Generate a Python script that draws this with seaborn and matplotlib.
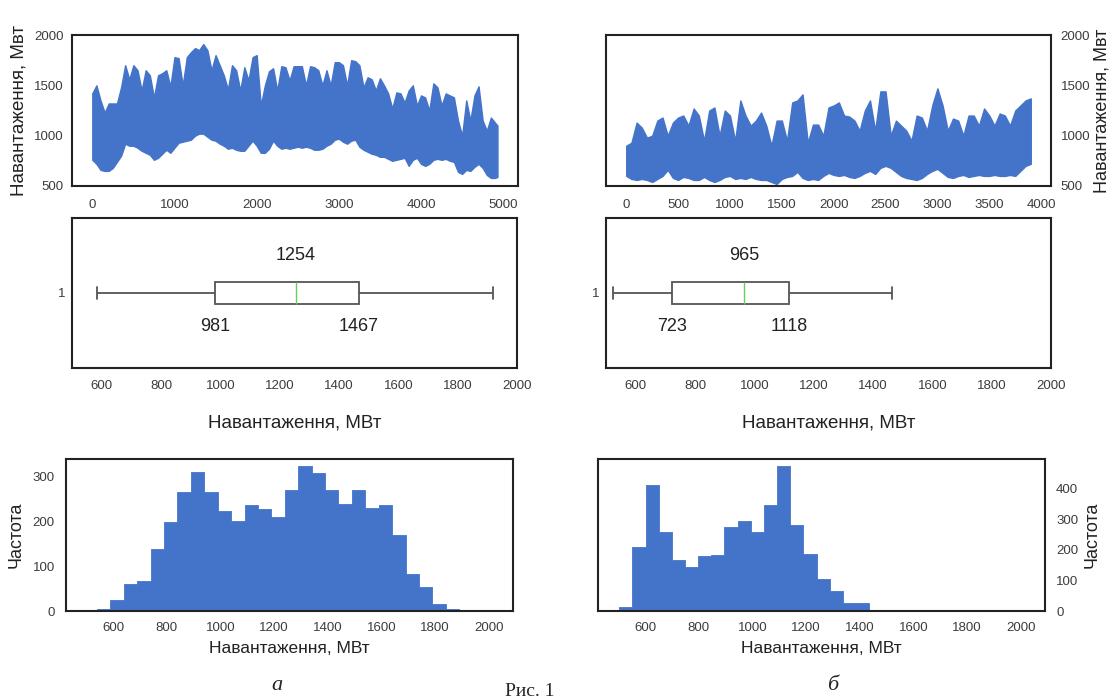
import numpy as np
import matplotlib
matplotlib.use("Agg")
import matplotlib.pyplot as plt
from matplotlib.transforms import blended_transform_factory
import seaborn as sns

# ---------------- data ----------------
# (а) load series envelope, step 50 samples, last sample at 4930
upper_a = [1420, 1500, 1350, 1230, 1320, 1320, 1320, 1480, 1700, 1560,
           1700, 1650, 1450, 1650, 1600, 1380, 1600, 1620, 1650, 1490,
           1780, 1770, 1500, 1780, 1830, 1870, 1850, 1910, 1850, 1650,
           1800, 1700, 1600, 1460, 1700, 1650, 1450, 1680, 1550, 1780,
           1800, 1300, 1500, 1640, 1670, 1450, 1690, 1680, 1550, 1690,
           1690, 1690, 1500, 1690, 1680, 1650, 1500, 1650, 1500, 1730,
           1730, 1700, 1500, 1750, 1740, 1700, 1480, 1580, 1560, 1450,
           1570, 1500, 1420, 1270, 1430, 1420, 1330, 1450, 1500, 1300,
           1400, 1380, 1250, 1520, 1480, 1300, 1420, 1400, 1380, 1150,
           1000, 1350, 1150, 1400, 1490, 1150, 1050, 1180, 1130, 1100]
lower_a = [760, 720, 660, 650, 650, 680, 740, 800, 920, 900,
           900, 880, 850, 830, 810, 760, 780, 820, 860, 830,
           880, 930, 940, 950, 960, 1000, 1020, 1020, 990, 960,
           950, 920, 900, 870, 880, 860, 850, 850, 900, 950,
           900, 830, 830, 870, 950, 900, 870, 880, 870, 880,
           890, 880, 890, 880, 860, 860, 870, 900, 920, 960,
           970, 940, 920, 950, 960, 890, 860, 840, 820, 810,
           790, 790, 770, 750, 760, 770, 780, 700, 760, 780,
           720, 700, 720, 760, 770, 760, 770, 750, 740, 640,
           620, 660, 650, 690, 720, 680, 610, 580, 580, 590]
t_a = [i * 50 for i in range(len(upper_a) - 1)] + [4930]

# (б) load series envelope, step 50 samples
upper_b = [900, 930, 1130, 1080, 980, 1000, 1150, 1180, 1000, 1130,
           1180, 1200, 1100, 1270, 1200, 950, 1250, 1280, 1000, 1250,
           1200, 950, 1350, 1200, 1100, 1150, 1230, 1100, 900, 1150,
           1150, 950, 1330, 1350, 1410, 930, 1110, 1110, 1000, 1280,
           1300, 1330, 1200, 1190, 1150, 1050, 1250, 1350, 1050, 1440,
           1440, 1000, 1150, 1100, 1050, 950, 1200, 1180, 1050, 1300,
           1470, 1300, 1050, 1170, 1150, 1000, 1200, 1200, 1100, 1270,
           1200, 1100, 1220, 1200, 1100, 1250, 1300, 1350, 1370]
lower_b = [600, 570, 560, 570, 560, 540, 570, 600, 660, 580,
           560, 590, 580, 560, 560, 590, 560, 540, 560, 590,
           600, 570, 580, 570, 590, 570, 560, 560, 540, 520,
           570, 590, 600, 640, 580, 560, 570, 560, 600, 630,
           610, 600, 610, 590, 580, 600, 630, 650, 620, 680,
           700, 680, 640, 600, 580, 570, 560, 580, 620, 650,
           670, 630, 590, 580, 600, 610, 590, 600, 610, 600,
           600, 610, 600, 600, 610, 600, 650, 700, 720]
t_b = [i * 50 for i in range(len(upper_b))]

# box plot five-number summaries: min, Q1, median, Q3, max
box_a = [583, 981, 1254, 1467, 1919]
box_b = [524, 723, 965, 1118, 1463]

# histograms
hist_a_start, hist_a_width = 540, 50
hist_a_counts = [5, 25, 60, 66, 138, 198, 267, 311, 267, 224, 201, 237, 228, 210,
                 271, 324, 308, 270, 240, 271, 231, 237, 170, 83, 54, 15, 5]
hist_b_start, hist_b_width = 504, 49
hist_b_counts = [12, 210, 412, 259, 167, 142, 178, 182, 275, 295, 259, 346, 473,
                 281, 185, 103, 64, 25, 25]

ylabel_ts = "Навантаження, Мвт"
xlabel_mw = "Навантаження, МВт"
ylabel_hist = "Частота"

# ---------------- styling ----------------
sns.set_theme(style="white")
plt.rcParams['font.family'] = ['Liberation Sans', 'DejaVu Sans']
TICKFONT = ['Liberation Sans Narrow', 'Liberation Sans', 'DejaVu Sans']
BLUE = "#4474C9"
TICKC = "#3c3c3c"

W, H = 1111, 698
fig = plt.figure(figsize=(W / 100, H / 100), dpi=100)


def pos(x0, y0, x1, y1):
    return [x0 / W, 1 - y1 / H, (x1 - x0) / W, (y1 - y0) / H]


def style(ax, xpad=8, ypad=6):
    for s in ax.spines.values():
        s.set_color("#222222")
        s.set_linewidth(1.5)
        s.set_visible(True)
    ax.tick_params(axis='both', length=0, labelsize=9.5, labelcolor=TICKC)
    ax.tick_params(axis='x', pad=xpad)
    ax.tick_params(axis='y', pad=ypad)
    for lab in ax.get_xticklabels() + ax.get_yticklabels():
        lab.set_family(TICKFONT)


# ---- top: time series ----
ax1 = fig.add_axes(pos(72, 35, 518, 186))
ax1.fill_between(t_a, lower_a, upper_a, color=BLUE, lw=1.0, edgecolor=BLUE)
ax1.set_xlim(-247, 5180)
ax1.set_ylim(500, 2000)
ax1.set_xticks(range(0, 5001, 1000))
ax1.set_yticks([500, 1000, 1500, 2000])
ax1.set_ylabel(ylabel_ts, fontsize=13.5, color="#222", labelpad=5)
style(ax1, xpad=9, ypad=6)

ax2 = fig.add_axes(pos(606, 35, 1051, 186))
ax2.fill_between(t_b, lower_b, upper_b, color=BLUE, lw=1.0, edgecolor=BLUE)
ax2.set_xlim(-195, 4095)
ax2.set_ylim(500, 2000)
ax2.set_xticks(range(0, 4001, 500))
ax2.set_yticks([500, 1000, 1500, 2000])
ax2.yaxis.tick_right()
ax2.yaxis.set_label_position("right")
ax2.set_ylabel(ylabel_ts, fontsize=13, color="#222", labelpad=2)
style(ax2, xpad=9, ypad=7)

# ---- middle: box plots ----
def draw_box(ax, stats):
    sns.boxplot(x=stats, ax=ax, whis=(0, 100), width=0.147, color='white',
                linecolor='#555555', linewidth=1.3,
                medianprops={'color': '#66cc66', 'linewidth': 1.0})
    ax.set_xlim(500, 2000)
    ax.set_ylim(0.5, -0.5)
    ax.set_xticks(range(600, 2001, 200))
    ax.set_yticks([0])
    ax.set_yticklabels(['1'])
    ax.set_xlabel(xlabel_mw, fontsize=13.5, color="#222", labelpad=16)
    tr = blended_transform_factory(ax.transData, ax.transAxes)
    ax.text(stats[2], 0.75, f"{stats[2]}", transform=tr, ha='center', va='center',
            fontsize=13, color="#222")
    ax.text(stats[1], 0.275, f"{stats[1]}", transform=tr, ha='center', va='center',
            fontsize=13, color="#222")
    ax.text(stats[3], 0.275, f"{stats[3]}", transform=tr, ha='center', va='center',
            fontsize=13, color="#222")
    style(ax, xpad=9, ypad=5)


ax3 = fig.add_axes(pos(72, 218, 517, 368))
draw_box(ax3, box_a)
ax4 = fig.add_axes(pos(606, 218, 1051, 368))
draw_box(ax4, box_b)

# ---- bottom: histograms ----
def draw_hist(ax, start, width, counts, ymax):
    edges = [start + width * i for i in range(len(counts) + 1)]
    centers = [start + width * (i + 0.5) for i in range(len(counts))]
    sns.histplot(x=centers, weights=counts, bins=edges, element='step', fill=True,
                 color=BLUE, alpha=1.0, linewidth=0.6, edgecolor=BLUE, ax=ax)
    ax.set_xlim(425, 2090)
    ax.set_ylim(0, ymax)
    ax.set_xticks(range(600, 2001, 200))
    ax.set_xlabel(xlabel_mw, fontsize=12.5, color="#222", labelpad=5)


ax5 = fig.add_axes(pos(66, 459, 513, 611))
draw_hist(ax5, hist_a_start, hist_a_width, hist_a_counts, 340)
ax5.set_yticks([0, 100, 200, 300])
ax5.set_ylabel(ylabel_hist, fontsize=13, color="#222", labelpad=6)
style(ax5, xpad=8, ypad=8)

ax6 = fig.add_axes(pos(598, 459, 1045, 611))
draw_hist(ax6, hist_b_start, hist_b_width, hist_b_counts, 496)
ax6.set_yticks([0, 100, 200, 300, 400])
ax6.yaxis.tick_right()
ax6.yaxis.set_label_position("right")
ax6.set_ylabel(ylabel_hist, fontsize=13, color="#222", labelpad=4)
style(ax6, xpad=8, ypad=8)

# ---- captions ----
fig.text(277 / W, 1 - 686 / H, "а", fontsize=16, style='italic',
         family=['Liberation Serif', 'DejaVu Serif'], ha='center', va='center')
fig.text(833 / W, 1 - 686 / H, "б", fontsize=16, style='italic',
         family=['Liberation Serif', 'DejaVu Serif'], ha='center', va='center')
fig.text(530 / W, 1 - 696 / H, "Рис. 1", fontsize=14,
         family=['Liberation Serif', 'DejaVu Serif'], ha='center', va='baseline')

fig.savefig("out.png", dpi=100)
